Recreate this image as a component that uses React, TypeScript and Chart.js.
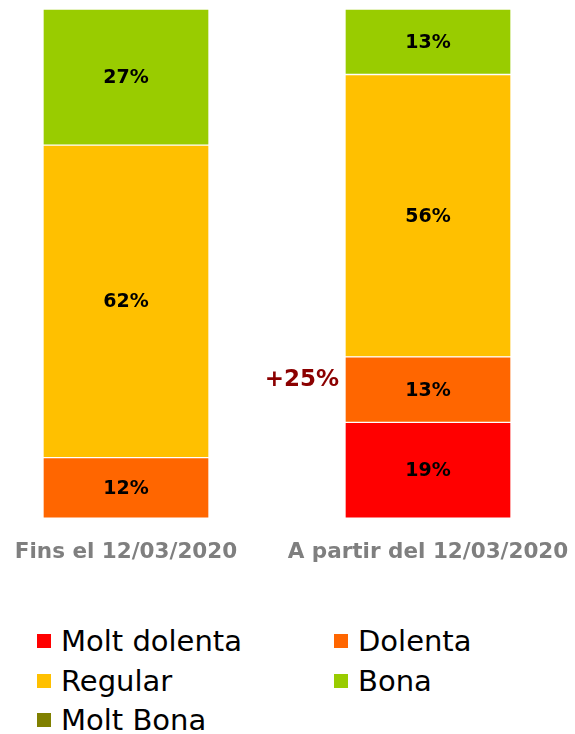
import React, { useEffect, useRef } from "react";
import { Chart, registerables } from "chart.js";

Chart.register(...registerables);

const categories = ["Fins el 12/03/2020", "A partir del 12/03/2020"];
const seriesNames = ["Molt dolenta", "Dolenta", "Regular", "Bona", "Molt Bona"];
const moltDolenta = [0, 19];
const dolenta = [12, 13];
const regular = [62, 56];
const bona = [27, 13];
const moltBona = [0, 0];
const seriesColors = ["#FF0000", "#FF6600", "#FFC000", "#99CC00", "#808000"];
const annotationText = "+25%";
const yMax = 101;

const FONT = "'DejaVu Sans', sans-serif";

const labelsPlugin = {
  id: "segmentLabels",
  afterDatasetsDraw(chart: any) {
    const ctx = chart.ctx;
    ctx.save();
    ctx.font = `bold 19px ${FONT}`;
    ctx.fillStyle = "#000000";
    ctx.textAlign = "center";
    ctx.textBaseline = "middle";
    chart.data.datasets.forEach((ds: any, di: number) => {
      const meta = chart.getDatasetMeta(di);
      meta.data.forEach((el: any, i: number) => {
        const v = ds.data[i];
        if (!v) return;
        const { x, y, base } = el.getProps(["x", "y", "base"], true);
        ctx.fillText(`${v}%`, x, (y + base) / 2 + 1);
      });
    });
    // annotation next to the "Dolenta" segment of the second bar
    const meta = chart.getDatasetMeta(1);
    const el: any = meta.data[1];
    if (el) {
      const { x, y, base, width } = el.getProps(["x", "y", "base", "width"], true);
      ctx.font = `bold 23px ${FONT}`;
      ctx.fillStyle = "#8B0000";
      ctx.textAlign = "right";
      ctx.fillText(annotationText, x - width / 2 - 6, (y + base) / 2 - 10);
    }
    ctx.restore();
  },
};

export default function App() {
  const ref = useRef<HTMLCanvasElement | null>(null);
  useEffect(() => {
    if (!ref.current) return;
    const all = [moltDolenta, dolenta, regular, bona, moltBona];
    const chart = new Chart(ref.current, {
      type: "bar",
      data: {
        labels: categories,
        datasets: all.map((d, i) => ({
          label: seriesNames[i],
          data: d,
          backgroundColor: seriesColors[i],
          borderColor: "#FFFFFF",
          borderWidth: 1,
          borderSkipped: false,
          barThickness: 166,
          clip: false as any,
        })),
      },
      options: {
        responsive: false,
        animation: false,
        layout: { padding: { left: 126, right: 147, top: 9, bottom: 8 } },
        plugins: { legend: { display: false }, tooltip: { enabled: false } },
        scales: {
          x: {
            stacked: true,
            offset: false,
            grid: { display: false, drawTicks: false },
            border: { display: false },
            ticks: {
              color: "#7F7F7F",
              font: { family: FONT, size: 21.5, weight: "bold" },
              padding: 21,
              autoSkip: false,
              maxRotation: 0,
            },
            afterFit(scale: any) {
              scale.paddingLeft = 0;
              scale.paddingRight = 0;
            },
          },
          y: {
            stacked: true,
            display: false,
            min: 0,
            max: yMax,
          },
        },
      },
      plugins: [labelsPlugin],
    });
    return () => chart.destroy();
  }, []);

  return (
    <div style={{ position: "absolute", left: 0, top: 0, width: 575, height: 734, background: "#fff" }}>
      <canvas ref={ref} width={575} height={594} style={{ position: "absolute", left: 0, top: 0 }} />
      {seriesNames.map((name, i) => {
        const col = i % 2;
        const row = Math.floor(i / 2);
        return (
          <div
            key={name}
            style={{
              position: "absolute",
              left: col === 0 ? 37 : 334,
              top: 621 + row * 39.5,
              height: 40,
              display: "flex",
              alignItems: "center",
              fontFamily: FONT,
              fontSize: 29,
              color: "#000",
              whiteSpace: "nowrap",
            }}
          >
            <span style={{ display: "inline-block", width: 14, height: 14, background: seriesColors[i], marginRight: 10 }} />
            <span>{name}</span>
          </div>
        );
      })}
    </div>
  );
}
